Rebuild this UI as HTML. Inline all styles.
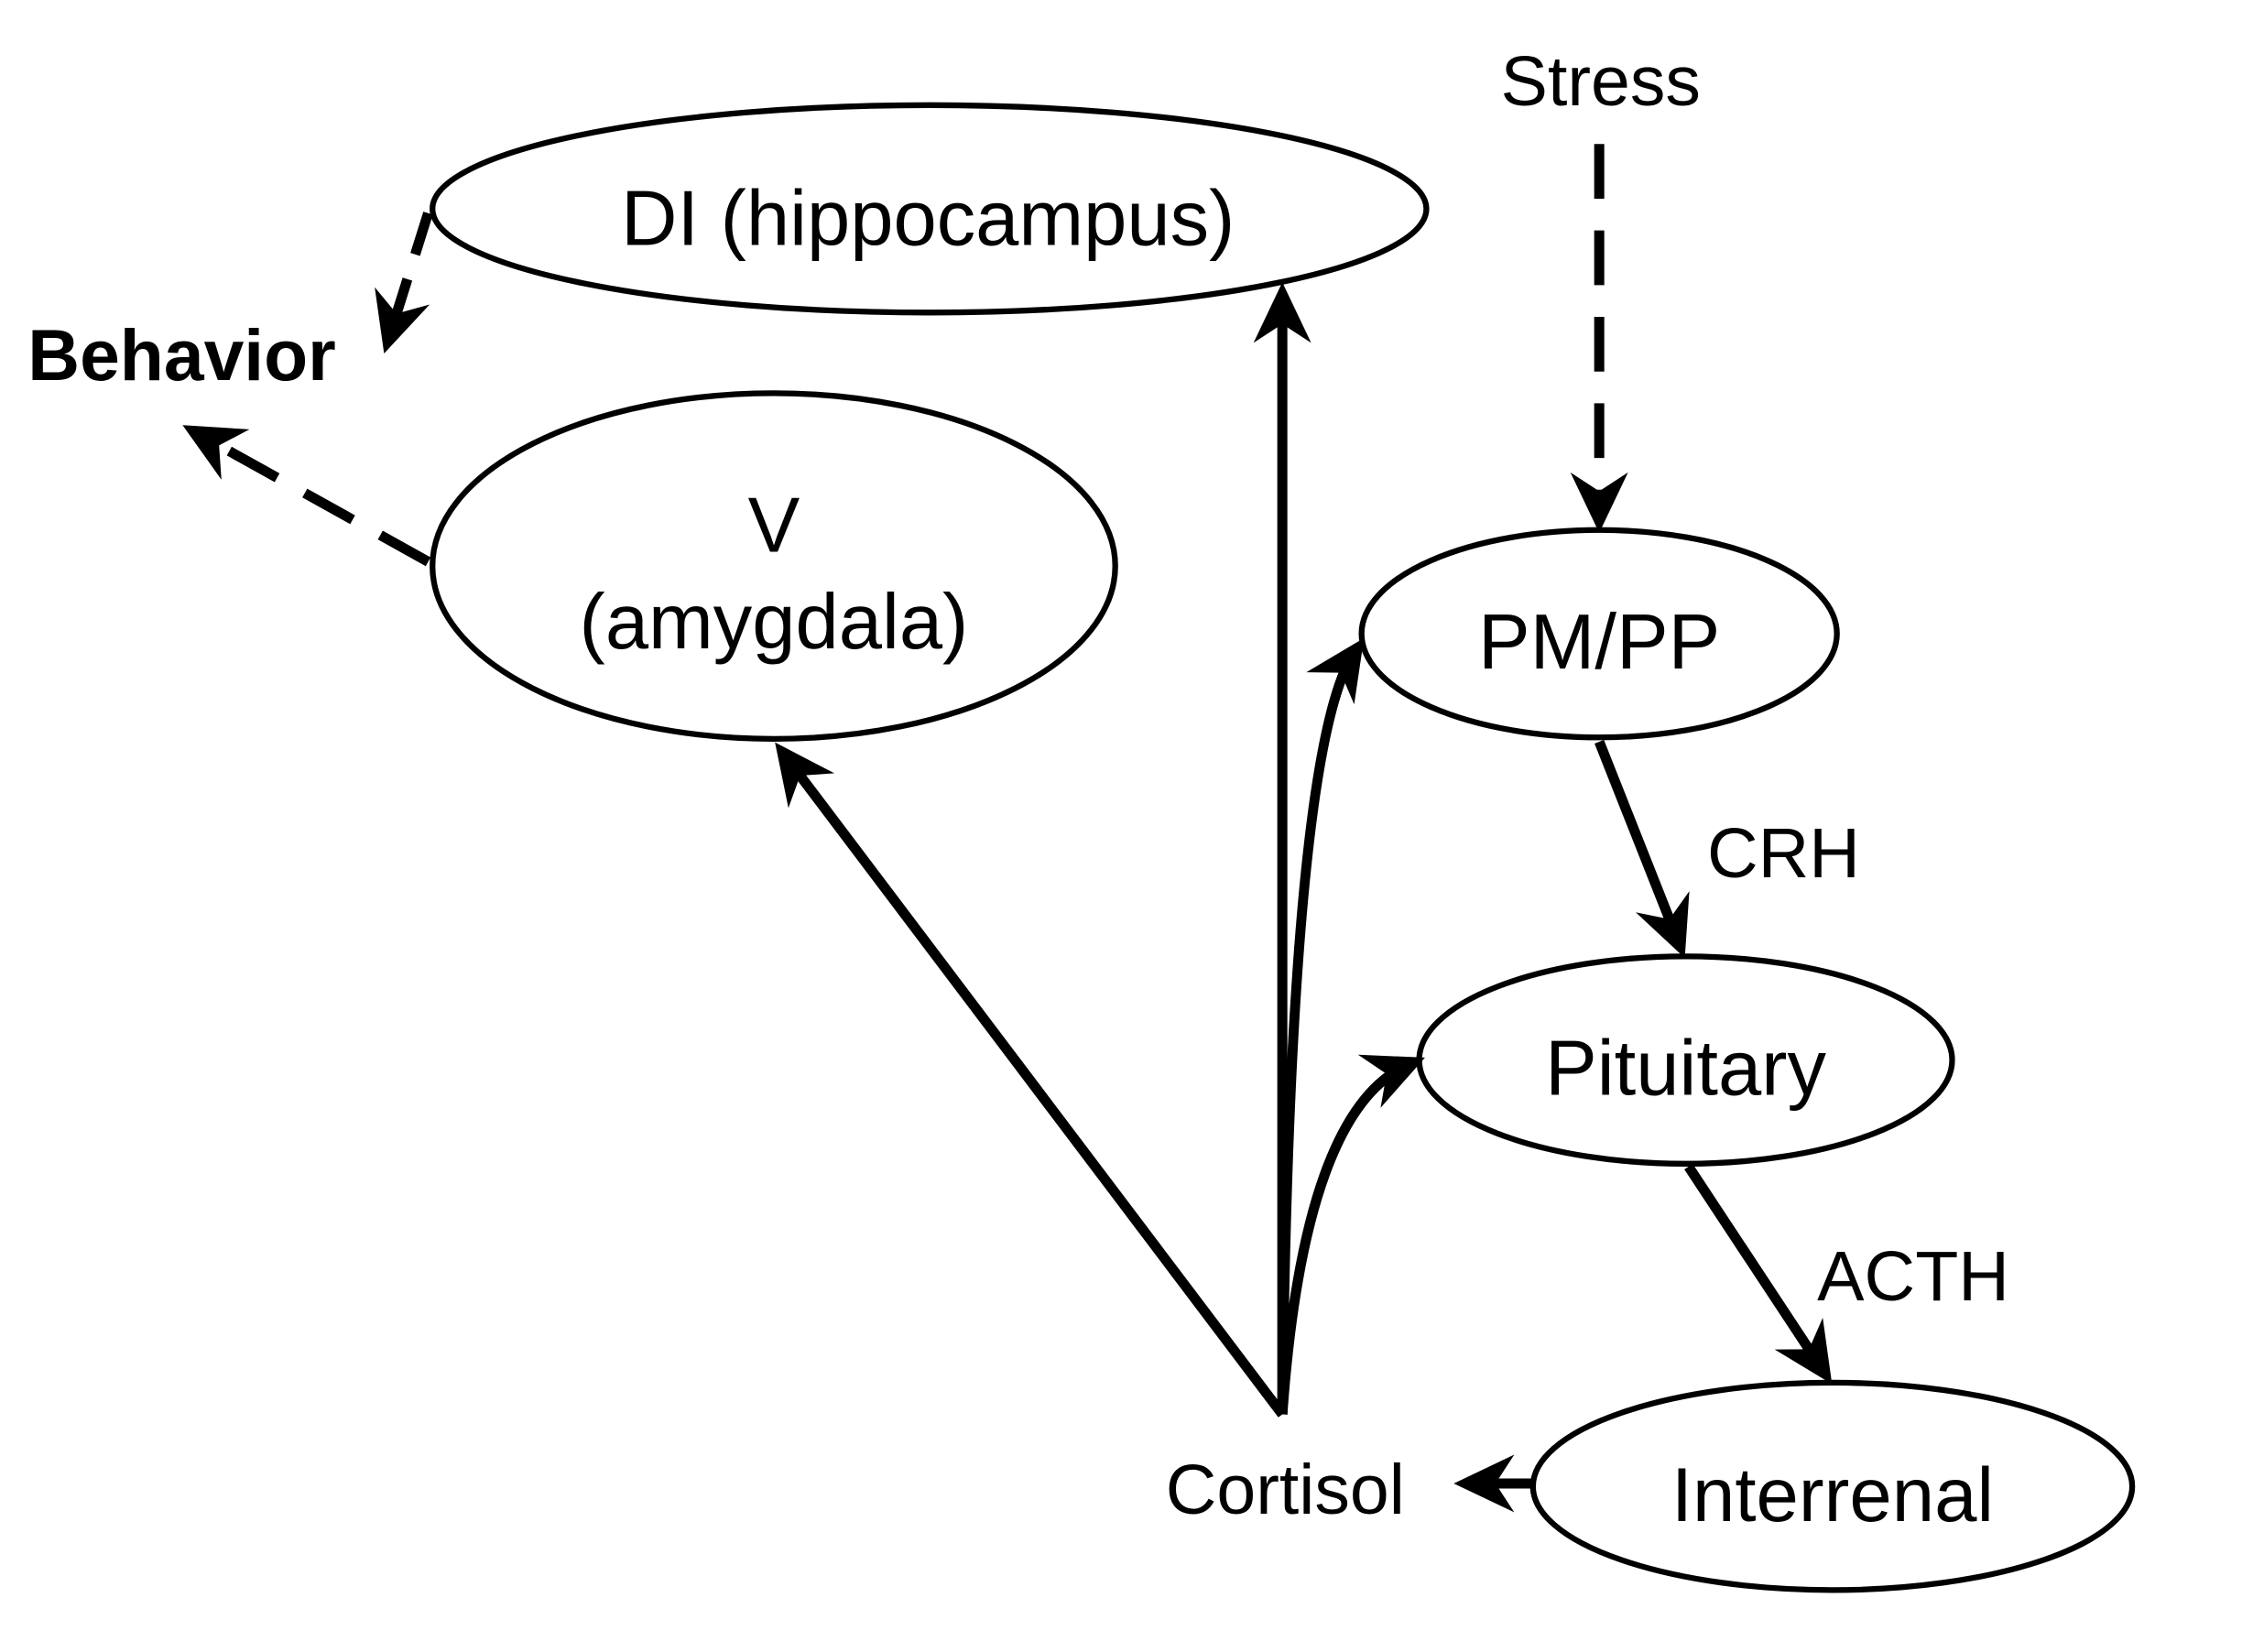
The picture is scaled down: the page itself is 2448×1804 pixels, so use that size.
<!DOCTYPE html>
<html><head><meta charset="utf-8"><style>html,body{margin:0;padding:0;background:#fff}svg{display:block}</style></head>
<body>
<svg width="2448" height="1804" viewBox="0 0 1556 1147" xmlns="http://www.w3.org/2000/svg" font-family="Liberation Sans, Arial, sans-serif">
<defs>
<marker id="a" markerUnits="userSpaceOnUse" markerWidth="50" markerHeight="44" refX="30" refY="22" orient="auto">
<path d="M0,2 L42,22 L0,42 L13,22 z" fill="#000"/>
</marker>
</defs>
<rect width="1556" height="1147" fill="#fff"/>
<g fill="none" stroke="#000" stroke-width="4">
<ellipse cx="645" cy="145" rx="345" ry="72"/>
<ellipse cx="537" cy="393" rx="237" ry="120"/>
<ellipse cx="1110" cy="440" rx="165" ry="72"/>
<ellipse cx="1170" cy="736" rx="185" ry="72"/>
<ellipse cx="1272" cy="1032" rx="208" ry="72"/>
</g>
<g fill="none" stroke="#000" stroke-width="7">
<line x1="1110" y1="100" x2="1110" y2="358" stroke-dasharray="38,22" marker-end="url(#a)"/>
<line x1="297" y1="148" x2="270" y2="234" stroke-dasharray="30,18" marker-end="url(#a)"/>
<line x1="297" y1="390" x2="137" y2="301" stroke-dasharray="38,22" marker-end="url(#a)"/>
<line x1="890" y1="982" x2="545" y2="525" marker-end="url(#a)"/>
<line x1="890" y1="982" x2="890" y2="208" marker-end="url(#a)"/>
<path d="M890,982 Q895,520 940,453" marker-end="url(#a)"/>
<path d="M890,982 Q905,770 978,739" marker-end="url(#a)"/>
<line x1="1110" y1="515" x2="1165" y2="654" marker-end="url(#a)"/>
<line x1="1172" y1="810" x2="1265" y2="951" marker-end="url(#a)"/>
<line x1="1064" y1="1030" x2="1021" y2="1030" marker-end="url(#a)"/>
</g>
<g fill="#000" text-anchor="middle" font-size="54">
<text x="644" y="170">DI (hippocampus)</text>
<text x="537" y="383">V</text>
<text x="537" y="450">(amygdala)</text>
<text x="1110" y="464">PM/PP</text>
<text x="1170" y="760">Pituitary</text>
<text x="1272" y="1056" font-size="53">Interrenal</text>
<text x="1111" y="73" font-size="49">Stress</text>
<text x="126" y="264" font-size="50" font-weight="bold">Behavior</text>
<text x="892" y="1051" font-size="49">Cortisol</text>
<text x="1238" y="609" font-size="49">CRH</text>
<text x="1328" y="903" font-size="49">ACTH</text>
</g>
</svg>
</body></html>
